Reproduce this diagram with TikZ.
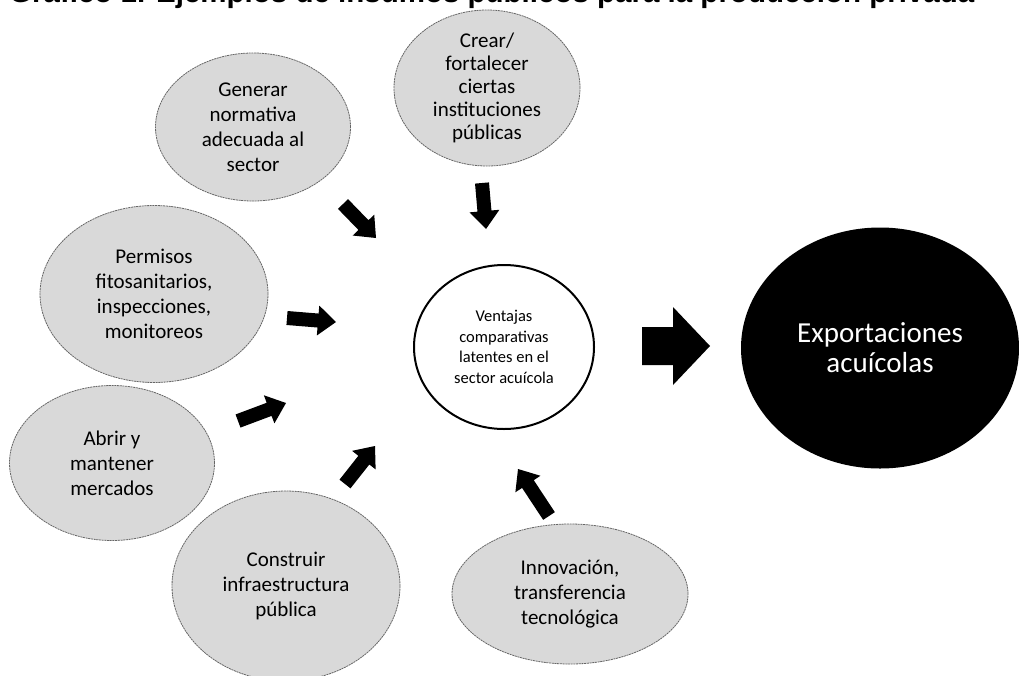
\documentclass[tikz,border=0pt]{standalone}
\usepackage{fontspec}
\setmainfont{Carlito}
\newfontfamily\headfont{Liberation Sans}
\usetikzlibrary{shapes.geometric,calc}

% Thick block arrow from #1 (tail) to #2 (tip):
% #3 half shaft width, #4 half head width, #5 head length
\newcommand\blkarrow[5]{%
  \coordinate (neck) at ($(#2)!#5!(#1)$);
  \fill[arrowfill]
    ($(#1)!#3!90:(#2)$) -- ($(neck)!#3!-90:(#1)$) -- ($(neck)!#4!-90:(#1)$)
    -- (#2)
    -- ($(neck)!#4!90:(#1)$) -- ($(neck)!#3!90:(#1)$) -- ($(#1)!#3!-90:(#2)$) -- cycle;
}

\tikzset{
  bubble/.style={ellipse, draw=black!60, fill=black!15, line width=0.8pt,
    dash pattern=on 2pt off 0.7pt, align=center, inner sep=0pt, outer sep=0pt,
    font=\fontsize{21}{25}\selectfont},
  core/.style={ellipse, draw=black, line width=2pt, fill=white, align=center,
    inner sep=0pt, font=\fontsize{16.5}{20.7}\selectfont},
  goal/.style={ellipse, fill=black, text=white, align=center, inner sep=0pt,
    font=\fontsize{29}{30}\selectfont},
  arrowfill/.style={fill=black},
}

\begin{document}
\begin{tikzpicture}[x=1pt,y=-1pt]
\useasboundingbox (0,0) rectangle (1019,675);
\clip (0,0) rectangle (1019,675);

% heading, cut by the top edge
\node[anchor=south west, inner sep=0pt,
      font=\headfont\bfseries\fontsize{29.5}{30}\selectfont] (title) at (9,8.5)
  {Gráfico 1. Ejemplos de insumos públicos para la producción privada};

% public inputs
\node[bubble, minimum width=186pt, minimum height=156pt,
      font=\fontsize{21}{23}\selectfont] (crear) at (487,88)
  {Crear/\\fortalecer\\ciertas\\instituciones\\públicas};
\node[bubble, minimum width=195pt, minimum height=148pt] (gen) at (253,127)
  {Generar\\normativa\\adecuada al\\sector};
\node[bubble, minimum width=228pt, minimum height=177pt] (perm) at (154,294)
  {Permisos\\fitosanitarios,\\inspecciones,\\monitoreos};
\node[bubble, minimum width=205pt, minimum height=155pt] (abrir) at (112,463)
  {Abrir y\\mantener\\mercados};
\node[bubble, minimum width=228pt, minimum height=190pt] (constr) at (286,586)
  {Construir\\infraestructura\\pública};
\node[bubble, minimum width=236pt, minimum height=140pt] (innov) at (570,594)
  {Innovación,\\transferencia\\tecnológica};

% central idea and outcome
\node[core, minimum width=180pt, minimum height=164pt] (ctr) at (504,347)
  {Ventajas\\comparativas\\latentes en el\\sector acuícola};
\node[goal, minimum width=278pt, minimum height=241pt] (exp) at (880,348)
  {Exportaciones\\acuícolas};

% arrow ends
\coordinate (t1) at (343,204); \coordinate (h1) at (376,238);
\coordinate (t2) at (482,183); \coordinate (h2) at (486,229);
\coordinate (t3) at (287,318); \coordinate (h3) at (336,322);
\coordinate (t4) at (238,421); \coordinate (h4) at (286,403);
\coordinate (t5) at (345,484); \coordinate (h5) at (375,446);
\coordinate (t6) at (549,516); \coordinate (h6) at (518,469);
\coordinate (t7) at (642,346); \coordinate (h7) at (710,346);

\blkarrow{t1}{h1}{7pt}{15pt}{18pt}
\blkarrow{t2}{h2}{7pt}{15pt}{18pt}
\blkarrow{t3}{h3}{7pt}{15pt}{18pt}
\blkarrow{t4}{h4}{7pt}{15pt}{18pt}
\blkarrow{t5}{h5}{7pt}{15pt}{18pt}
\blkarrow{t6}{h6}{7pt}{15pt}{18pt}
\blkarrow{t7}{h7}{19pt}{39pt}{37pt}
\end{tikzpicture}
\end{document}
